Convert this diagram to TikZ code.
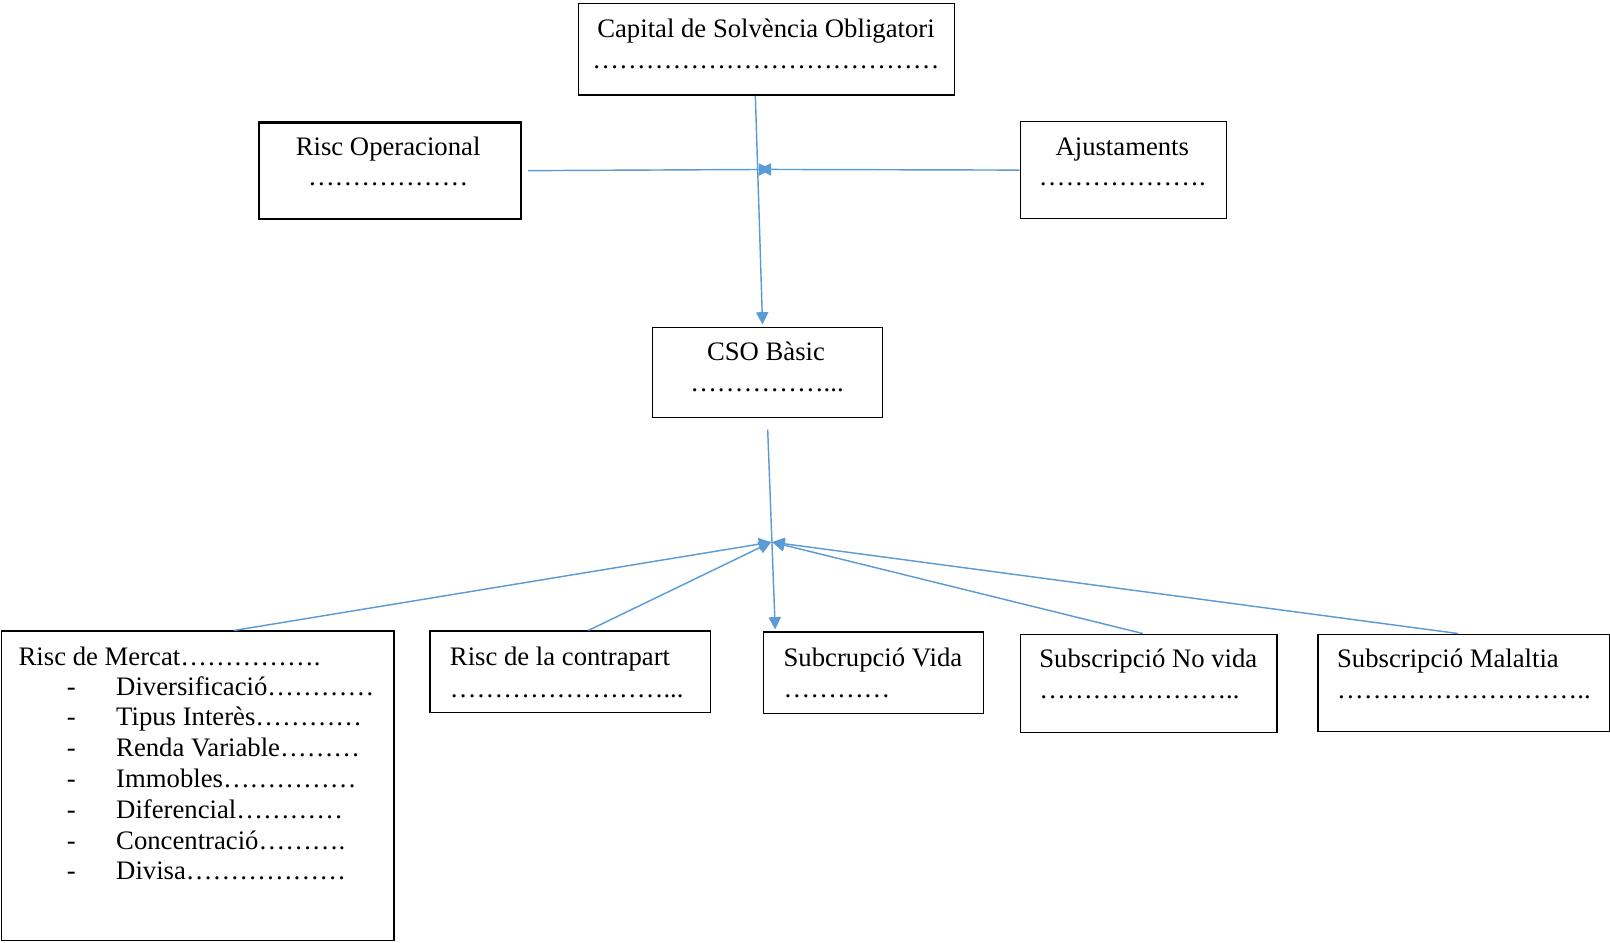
\documentclass[tikz,border=0pt]{standalone}
\usepackage{fontspec}
\setmainfont{Liberation Serif}
\usetikzlibrary{arrows.meta}
\definecolor{connc}{HTML}{5B9BD5}
\begin{document}
\begin{tikzpicture}[x=1pt,y=-1pt,
 box/.style={draw=black,line width=1.3pt,inner sep=0pt,anchor=north west},
 txt/.style={anchor=base,inner sep=0pt,font=\fontsize{26}{30}\selectfont},
 ltxt/.style={txt,anchor=base west},
 conn/.style={draw=connc,line width=1.4pt,-{Triangle[length=12pt,width=12pt]}}]
\useasboundingbox (0,0) rectangle (1568,917.5);

% boxes
\node[box,minimum width=366,minimum height=89] (cap) at (563,3) {};
\node[box,line width=2.4pt,minimum width=255,minimum height=94] (ro) at (251,118) {};
\node[box,minimum width=201,minimum height=94] (aj) at (993,118) {};
\node[box,minimum width=224,minimum height=88] (cso) at (635,318) {};
\node[box,minimum width=382,minimum height=301] (rm) at (1,614) {};
\node[box,minimum width=273,minimum height=79] (rc) at (418,614) {};
\node[box,minimum width=214,minimum height=79] (sv) at (743,615) {};
\node[box,minimum width=250,minimum height=96] (snv) at (993,617) {};
\node[box,minimum width=284,minimum height=95] (sm) at (1283,617) {};

% texts
\node[txt] (capA) at (746,37) {Capital de Solvència Obligatori};
\node[txt] (capB) at (746,67) {…………………………………};
\node[txt] (roA) at (378,151) {Risc Operacional};
\node[txt] (roB) at (378,181) {………………};
\node[txt] (ajA) at (1093,151) {Ajustaments};
\node[txt] (ajB) at (1093,181) {……………….};
\node[txt] (csoA) at (746,351) {CSO Bàsic};
\node[txt] (csoB) at (747,381) {……………...};

\node[ltxt] (rmA) at (18,648) {Risc de Mercat…………….};
\node[ltxt] (rmd1) at (65,677) {-};
\node[ltxt] (rmi1) at (113,677) {Diversificació…………};
\node[ltxt] (rmd2) at (65,707) {-};
\node[ltxt] (rmi2) at (113,707) {Tipus Interès…………};
\node[ltxt] (rmd3) at (65,737) {-};
\node[ltxt] (rmi3) at (113,737) {Renda Variable………};
\node[ltxt] (rmd4) at (65,767) {-};
\node[ltxt] (rmi4) at (113,767) {Immobles……………};
\node[ltxt] (rmd5) at (65,797) {-};
\node[ltxt] (rmi5) at (113,797) {Diferencial…………};
\node[ltxt] (rmd6) at (65,827) {-};
\node[ltxt] (rmi6) at (113,827) {Concentració……….};
\node[ltxt] (rmd7) at (65,857) {-};
\node[ltxt] (rmi7) at (113,857) {Divisa………………};

\node[ltxt] (rcA) at (438,648) {Risc de la contrapart};
\node[ltxt] (rcB) at (438,679) {……………………...};
\node[ltxt] (svA) at (763,649) {Subcrupció Vida};
\node[ltxt] (svB) at (763,679) {…………};
\node[ltxt] (snvA) at (1012,650) {Subscripció No vida};
\node[ltxt] (snvB) at (1012,680) {…………………..};
\node[ltxt] (smA) at (1302,650) {Subscripció Malaltia};
\node[ltxt] (smB) at (1302,680) {………………………..};

% junctions
\coordinate (j1a) at (751,165);
\coordinate (j1b) at (739,165);
\coordinate (j2) at (751,528);
\coordinate (j3) at (752,528);

% connectors
\draw[conn] ([xshift=-11]cap.south) -- ([xshift=-5,yshift=2]cso.north);
\draw[conn] ([xshift=6]ro.east) -- (j1a);
\draw[conn] (aj.west) -- (j1b);
\draw[conn] ([yshift=-11]cso.south) -- ([xshift=12,yshift=2]sv.north west);
\draw[conn] ([xshift=227]rm.north west) -- (j2);
\draw[conn] ([xshift=155]rc.north west) -- (j2);
\draw[conn] ([xshift=120]snv.north west) -- (j3);
\draw[conn] ([xshift=137]sm.north west) -- (j3);
\end{tikzpicture}
\end{document}
